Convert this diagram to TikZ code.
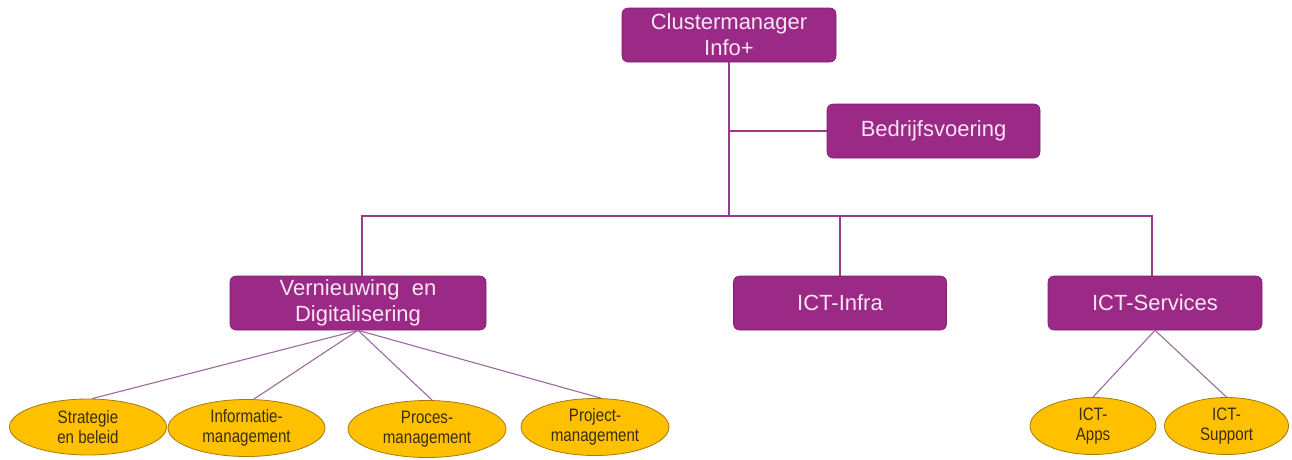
\documentclass[tikz,border=0pt]{standalone}
\usepackage{fontspec}
\setmainfont{Liberation Sans}
\newfontfamily\narrowfont[FakeStretch=0.84]{Liberation Sans}
\usetikzlibrary{shapes.geometric}
\definecolor{plum}{HTML}{9A2A85}
\definecolor{plumdark}{HTML}{7E1F6C}
\definecolor{plumtext}{HTML}{F8E4F3}
\definecolor{plumline}{HTML}{9A3A8C}
\definecolor{thinline}{HTML}{9A6A9E}
\definecolor{gold}{HTML}{FFC000}
\definecolor{golddark}{HTML}{A77A0A}
\definecolor{goldtext}{HTML}{3A2E10}
\tikzset{
  unitbox/.style={draw=plumdark, line width=0.6pt, fill=plum, rounded corners=6pt,
    text=plumtext, align=center, inner sep=0pt,
    font=\fontsize{22}{26}\selectfont},
  subellipse/.style={ellipse, draw=golddark, line width=0.8pt, fill=gold, inner sep=0pt,
    text=goldtext, align=center, font=\narrowfont\fontsize{18}{20.5}\selectfont},
  trunk/.style={draw=plumline, line width=2.3pt},
  twig/.style={draw=thinline, line width=1.1pt}
}
\begin{document}
\begin{tikzpicture}[x=1pt,y=-1pt]
\useasboundingbox (0,0) rectangle (1292,459);
% boxes
\node[unitbox, minimum width=214pt, minimum height=54pt] (cm) at (729,35) {Clustermanager\\Info+};
\node[unitbox, minimum width=213pt, minimum height=54pt] (bv) at (933.5,131) {Bedrijfsvoering};
\node[unitbox, minimum width=256pt, minimum height=54pt] (vd) at (358,303) {Vernieuwing\ \ en\\Digitalisering};
\node[unitbox, minimum width=213pt, minimum height=54pt] (ci) at (840,303) {ICT-Infra};
\node[unitbox, minimum width=214pt, minimum height=54pt] (cs) at (1155,303) {ICT-Services};
% ellipses
\node[subellipse, minimum width=157pt, minimum height=56pt] (e1) at (88,427) {Strategie\\en beleid};
\node[subellipse, minimum width=157pt, minimum height=57pt] (e2) at (246.5,428) {Informatie-\\management};
\node[subellipse, minimum width=158pt, minimum height=57pt] (e3) at (427,429) {Proces-\\management};
\node[subellipse, minimum width=148pt, minimum height=57pt] (e4) at (595,427) {Project-\\management};
\node[subellipse, minimum width=126pt, minimum height=57pt] (e5) at (1093,426) {ICT-\\Apps};
\node[subellipse, minimum width=124pt, minimum height=57pt] (e6) at (1226.5,426) {ICT-\\Support};
% bus coordinates
\coordinate (busL) at (362,216);
\coordinate (busR) at (1152,216);
\coordinate (busM) at (840,216);
% connectors
\draw[trunk] (cm.south) -- (cm.south |- busL);
\draw[trunk] (cm.south |- bv.west) -- (bv.west);
\draw[trunk, line cap=rect] (busL) -- (busR);
\draw[trunk] (busL) -- (busL |- vd.north);
\draw[trunk] (busM) -- (ci.north);
\draw[trunk] (busR) -- (busR |- cs.north);
\draw[twig] (vd.south) -- (e1.82);
\draw[twig] (vd.south) -- (e2.76);
\draw[twig] (vd.south) -- (e3.80);
\draw[twig] (vd.south) -- (e4.78);
\draw[twig] (cs.south) -- (e5.north);
\draw[twig] (cs.south) -- (e6.north);
\end{tikzpicture}
\end{document}
